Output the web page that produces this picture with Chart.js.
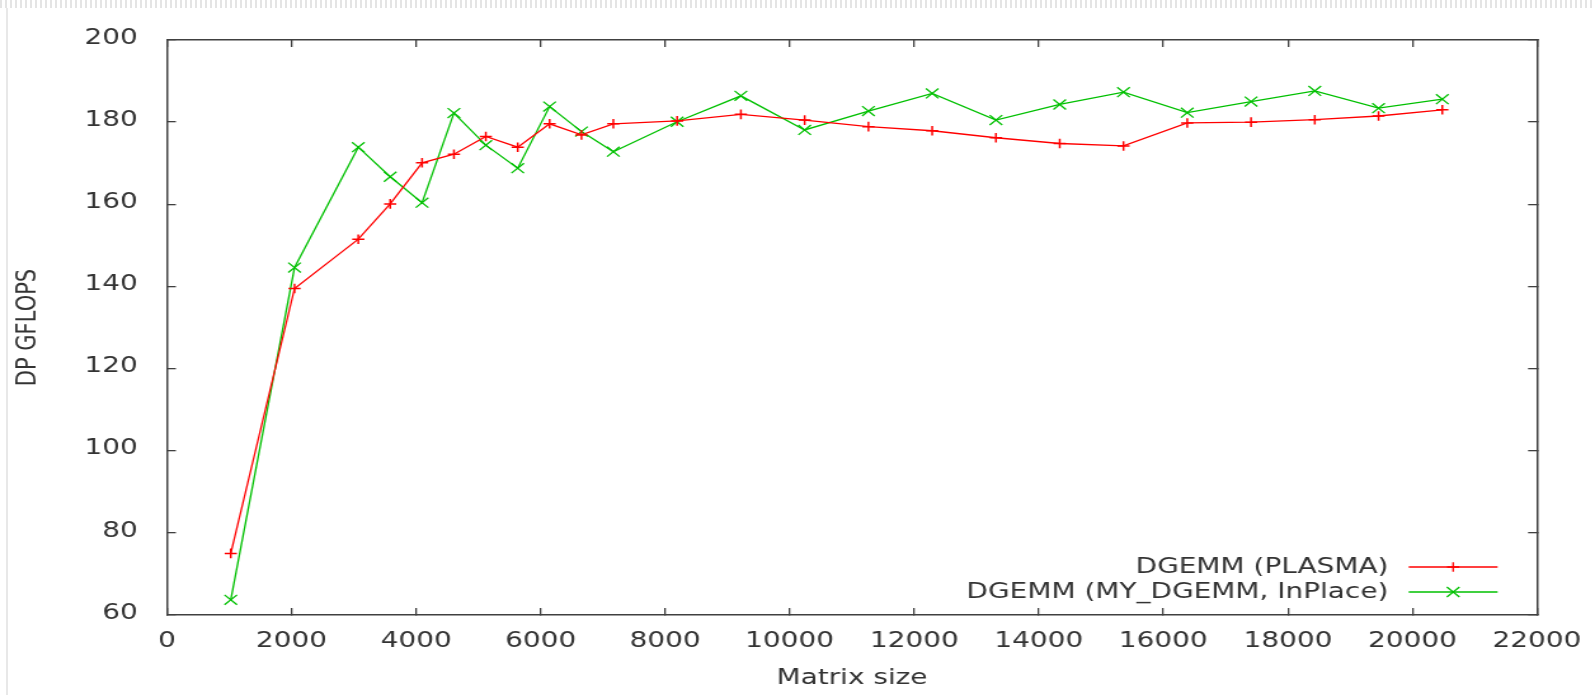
<!DOCTYPE html>
<html>
<head>
<meta charset="utf-8">
<script src="https://cdn.jsdelivr.net/npm/chart.js@4.4.1/dist/chart.umd.min.js"></script>
<style>
  html, body { margin: 0; padding: 0; background: #ffffff; width: 1595px; height: 695px; overflow: hidden; }
  #decoTop { position: absolute; left: 0; top: 0; width: 1595px; height: 8px;
    background: repeating-linear-gradient(90deg, #e4e4e4 0px, #e4e4e4 2px, #ffffff 2px, #ffffff 5px); }
  #decoLeft { position: absolute; left: 6px; top: 8px; width: 2px; height: 687px; background: #e8e8e8; }
  #wrap { position: absolute; left: 0; top: 0; width: 1256px; height: 695px;
    transform: scaleX(1.2699); transform-origin: 0 0; }
</style>
</head>
<body>
<div id="decoTop"></div>
<div id="decoLeft"></div>
<div id="wrap"><canvas id="chart" width="1256" height="695"></canvas></div>
<script>
// ---- data ----
const matrixSizes = [1024, 2048, 3072, 3584, 4096, 4608, 5120, 5632, 6144, 6656, 7168, 8192,
                     9216, 10240, 11264, 12288, 13312, 14336, 15360, 16384, 17408, 18432, 19456, 20480];
const plasmaGflops = [75.0, 139.5, 151.5, 160.1, 170.1, 172.2, 176.5, 173.9, 179.6, 176.9, 179.6, 180.3,
                      181.9, 180.5, 178.9, 177.9, 176.2, 174.8, 174.2, 179.8, 180.0, 180.6, 181.5, 183.0];
const myDgemmGflops = [63.7, 144.6, 173.9, 166.7, 160.4, 182.2, 174.4, 168.8, 183.8, 177.7, 172.8, 180.1,
                       186.4, 178.1, 182.7, 187.0, 180.5, 184.3, 187.3, 182.3, 185.0, 187.6, 183.4, 185.6];
const seriesLabels = ['DGEMM (PLASMA)', 'DGEMM (MY_DGEMM, InPlace)'];
const seriesColors = ['#ff0000', '#00c000'];
const xAxisRange = [0, 22000];
const xTickStep = 2000;
const yAxisRange = [60, 200];
const yTickStep = 20;
const xTitle = 'Matrix size';
const yTitle = 'DP GFLOPS';

const axisColor = '#404040';
const textColor = '#333333';

Chart.defaults.font.family = "'DejaVu Sans', sans-serif";
Chart.defaults.font.size = 22;
Chart.defaults.color = textColor;

const toPoints = (xs, ys) => xs.map((x, i) => ({ x: x, y: ys[i] }));
const plainNumber = (v) => String(v);
const noEdgePadding = (s) => { s.paddingLeft = 0; s.paddingRight = 0; s.paddingTop = 0; s.paddingBottom = 0; };

const tickGrid = { display: true, drawOnChartArea: false, drawTicks: true, tickLength: -7,
                   tickWidth: 1.3, tickColor: axisColor, lineWidth: 1.3, color: axisColor };
const axisBorder = { display: true, color: axisColor, width: 1.5 };

const insideLegend = {
  id: 'insideLegend',
  afterDatasetsDraw(chart) {
    const ctx = chart.ctx;
    const area = chart.chartArea;
    ctx.save();
    ctx.font = "22px 'DejaVu Sans', sans-serif";
    ctx.fillStyle = textColor;
    ctx.textAlign = 'right';
    ctx.textBaseline = 'middle';
    chart.data.datasets.forEach((ds, i) => {
      const y = area.bottom - 48 + i * 25;
      const textRight = area.right - 117;
      const x1 = area.right - 101;
      const x2 = area.right - 31;
      ctx.fillText(ds.label, textRight, y);
      ctx.strokeStyle = ds.borderColor;
      ctx.lineWidth = ds.borderWidth;
      ctx.beginPath();
      ctx.moveTo(x1, y);
      ctx.lineTo(x2, y);
      ctx.stroke();
      ctx.fillStyle = ds.borderColor;
      Chart.helpers.drawPoint(ctx, { pointStyle: ds.pointStyle, radius: ds.pointRadius,
                                     rotation: 0, borderWidth: ds.pointBorderWidth }, (x1 + x2) / 2, y);
      ctx.fillStyle = textColor;
    });
    ctx.restore();
  }
};

new Chart(document.getElementById('chart'), {
  type: 'line',
  data: {
    datasets: [
      { label: seriesLabels[0], data: toPoints(matrixSizes, plasmaGflops),
        borderColor: seriesColors[0], backgroundColor: seriesColors[0], borderWidth: 1.3,
        pointStyle: 'cross', pointRadius: 4.8, pointBorderWidth: 1.5, pointBorderColor: seriesColors[0],
        tension: 0, fill: false },
      { label: seriesLabels[1], data: toPoints(matrixSizes, myDgemmGflops),
        borderColor: seriesColors[1], backgroundColor: seriesColors[1], borderWidth: 1.3,
        pointStyle: 'crossRot', pointRadius: 7, pointBorderWidth: 1.3, pointBorderColor: seriesColors[1],
        tension: 0, fill: false }
    ]
  },
  options: {
    responsive: false,
    animation: false,
    events: [],
    layout: { padding: 0, autoPadding: false },
    plugins: { legend: { display: false }, tooltip: { enabled: false } },
    scales: {
      x: {
        type: 'linear', position: 'bottom', min: xAxisRange[0], max: xAxisRange[1],
        ticks: { stepSize: xTickStep, padding: 20, maxRotation: 0, autoSkip: false, color: textColor,
                 callback: plainNumber },
        grid: tickGrid, border: axisBorder,
        title: { display: true, text: xTitle, color: textColor, padding: { top: 0, bottom: 4 } },
        afterFit(s) { s.height = 80; noEdgePadding(s); }
      },
      x2: {
        type: 'linear', position: 'top', min: xAxisRange[0], max: xAxisRange[1],
        ticks: { stepSize: xTickStep, display: false },
        grid: tickGrid, border: axisBorder,
        afterFit(s) { s.height = 40; noEdgePadding(s); }
      },
      y: {
        type: 'linear', position: 'left', min: yAxisRange[0], max: yAxisRange[1],
        ticks: { stepSize: yTickStep, padding: 30, labelOffset: -2, color: textColor,
                 callback: plainNumber },
        grid: tickGrid, border: axisBorder,
        title: { display: true, text: yTitle, color: textColor, font: { size: 21 },
                 padding: { top: 10, bottom: 0 } },
        afterFit(s) { s.width = 131.5; noEdgePadding(s); }
      },
      y2: {
        type: 'linear', position: 'right', min: yAxisRange[0], max: yAxisRange[1],
        ticks: { stepSize: yTickStep, display: false },
        grid: tickGrid, border: axisBorder,
        afterFit(s) { s.width = 45.7; noEdgePadding(s); }
      }
    }
  },
  plugins: [insideLegend]
});
</script>
</body>
</html>
